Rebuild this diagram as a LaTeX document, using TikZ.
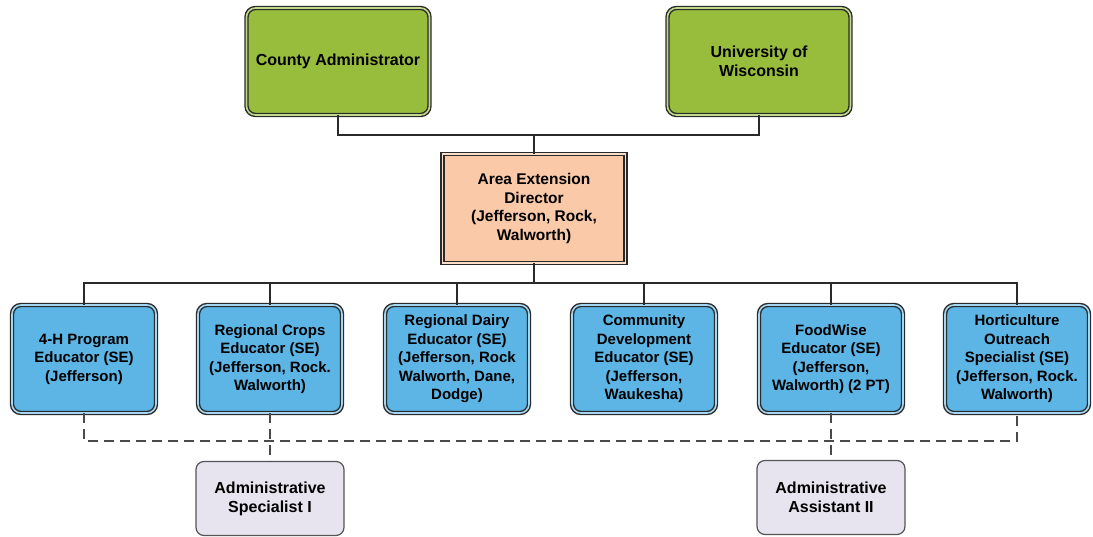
\documentclass[tikz,border=0pt]{standalone}
\usepackage{fontspec}
\setmainfont{Liberation Sans}
\definecolor{grn}{HTML}{98BD3C}
\definecolor{peach}{HTML}{F9C9A8}
\definecolor{blu}{HTML}{5CB5E5}
\definecolor{lav}{HTML}{E7E4EF}
\definecolor{edge}{HTML}{2A2A2A}
\begin{document}
\begin{tikzpicture}[x=1pt,y=-1pt,
  base/.style={align=center,font=\bfseries\fontsize{15.5}{18.5}\selectfont,outer sep=0pt,inner sep=2pt},
  topbox/.style={base,font=\bfseries\fontsize{16}{19}\selectfont,rounded corners=9pt,fill=grn,draw=edge,double=grn!60!white,double distance=1.6pt,line width=1.4pt,minimum width=183pt,minimum height=107pt},
  dirbox/.style={base,fill=peach,draw=edge,double=peach!60!white,double distance=1.6pt,line width=1.4pt,minimum width=183pt,minimum height=109pt},
  bluebox/.style={base,font=\bfseries\fontsize{15}{18.5}\selectfont,rounded corners=9pt,fill=blu,draw=edge,double=blu!55!white,double distance=1.6pt,line width=1.4pt,minimum width=144pt,minimum height=108pt},
  adminbox/.style={base,font=\bfseries\fontsize{16}{19}\selectfont,rounded corners=8pt,fill=lav,draw=edge!80,line width=1.2pt,minimum width=148pt,minimum height=74pt},
  conn/.style={draw=edge,line width=1.3pt},
  dconn/.style={draw=edge!85,line width=1.3pt,dash pattern=on 10pt off 6pt}]
\useasboundingbox (0,0) rectangle (1093,537);
\node[topbox] (ca) at (338,61.5) {County Administrator};
\node[topbox] (uw) at (759,61.5) {University of\\Wisconsin};
\node[dirbox] (aed) at (534,208.5) {Area Extension\\Director\\(Jefferson, Rock,\\Walworth)};
\node[bluebox] (b1) at (84,359) {4-H Program\\Educator (SE)\\(Jefferson)};
\node[bluebox] (b2) at (270,359) {Regional Crops\\Educator (SE)\\(Jefferson, Rock.\\Walworth)};
\node[bluebox] (b3) at (457,359) {Regional Dairy\\Educator (SE)\\(Jefferson, Rock\\Walworth, Dane,\\Dodge)};
\node[bluebox] (b4) at (644,359) {Community\\Development\\Educator (SE)\\(Jefferson,\\Waukesha)};
\node[bluebox] (b5) at (831,359) {FoodWise\\Educator (SE)\\(Jefferson,\\Walworth) (2 PT)};
\node[bluebox] (b6) at (1017,359) {Horticulture\\Outreach\\Specialist (SE)\\(Jefferson, Rock.\\Walworth)};
\node[adminbox] (as) at (270,498.5) {Administrative\\Specialist I};
\node[adminbox] (aa) at (831,497.5) {Administrative\\Assistant II};
% top connectors
\coordinate (tj) at (aed.north |- 0,135);
\draw[conn] (ca.south) |- (tj) -| (uw.south);
\draw[conn] (tj) -- (aed.north);
% bus
\coordinate (bj) at (aed.south |- 0,283);
\draw[conn] (aed.south) -- (bj);
\draw[conn] (b1.north) |- (bj) -| (b6.north);
\foreach \b in {b2,b3,b4,b5} \draw[conn] (\b.north) -- (\b.north |- bj);
% dashed
\coordinate (dj) at (0,441);
\draw[dconn] (b1.south) |- (dj -| b6.south) -- (b6.south);
\draw[dconn] (b2.south) -- (as.north);
\draw[dconn] (b5.south) -- (aa.north);
\end{tikzpicture}
\end{document}
